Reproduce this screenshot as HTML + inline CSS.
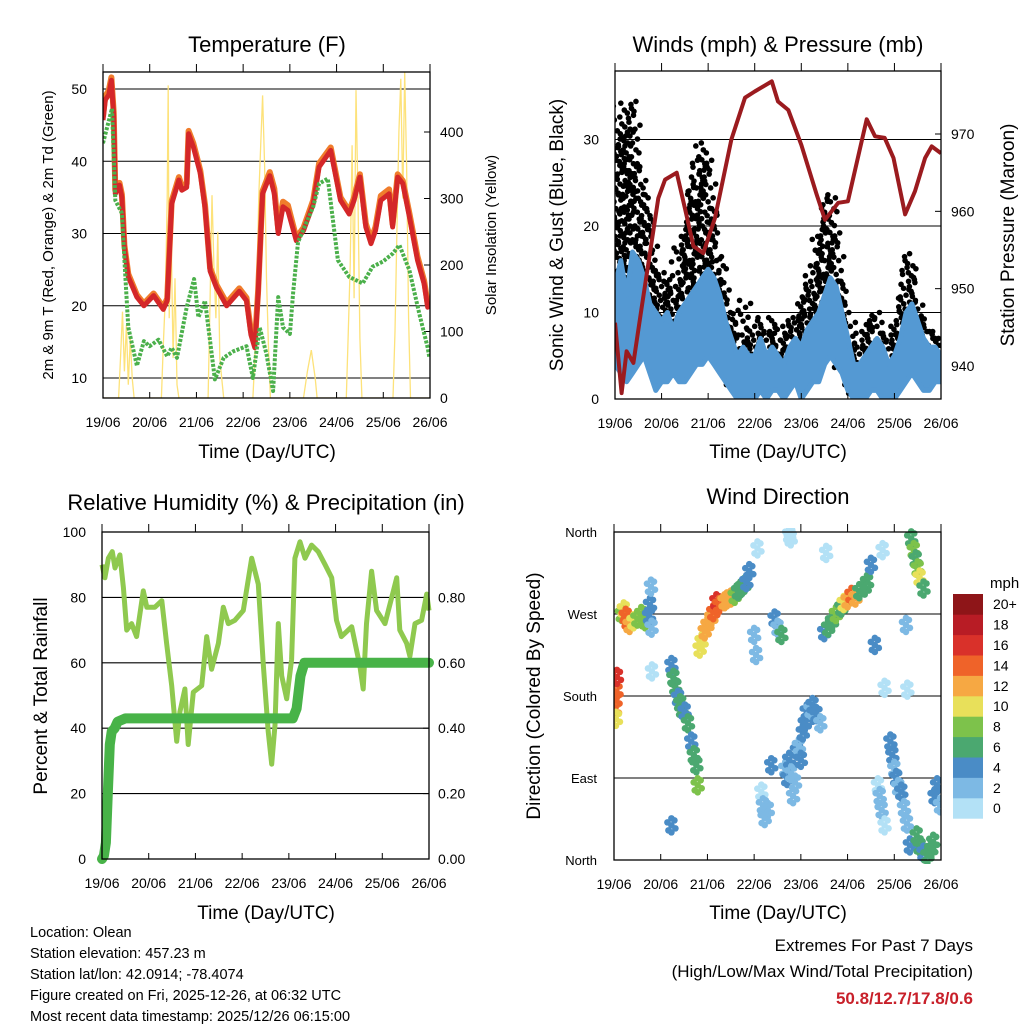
<!DOCTYPE html>
<html><head><meta charset="utf-8"><style>
html,body{margin:0;padding:0;background:#fff;}
svg{display:block;font-family:"Liberation Sans",Arial,sans-serif;}
</style></head><body>
<svg id="root" width="1024" height="1024" viewBox="0 0 1024 1024" xmlns="http://www.w3.org/2000/svg">
<rect x="0" y="0" width="1024" height="1024" fill="#fff"/>
<g id="layer"></g>
<g id="texts" fill="#000">
<text x="267" y="52" font-size="22" text-anchor="middle">Temperature (F)</text>
<text x="778" y="52" font-size="22" text-anchor="middle">Winds (mph) &amp; Pressure (mb)</text>
<text x="266" y="510" font-size="22" text-anchor="middle">Relative Humidity (%) &amp; Precipitation (in)</text>
<text x="778" y="504" font-size="22" text-anchor="middle">Wind Direction</text>
<text x="267" y="458" font-size="19" text-anchor="middle">Time (Day/UTC)</text>
<text x="778" y="458" font-size="19" text-anchor="middle">Time (Day/UTC)</text>
<text x="266" y="919" font-size="19" text-anchor="middle">Time (Day/UTC)</text>
<text x="778" y="919" font-size="19" text-anchor="middle">Time (Day/UTC)</text>
<text transform="translate(53,235) rotate(-90)" font-size="15" text-anchor="middle">2m &amp; 9m T (Red, Orange) &amp; 2m Td (Green)</text>
<text transform="translate(496,235) rotate(-90)" font-size="15" text-anchor="middle">Solar Insolation (Yellow)</text>
<text transform="translate(563,235) rotate(-90)" font-size="19" text-anchor="middle">Sonic Wind &amp; Gust (Blue, Black)</text>
<text transform="translate(1014,235) rotate(-90)" font-size="19" text-anchor="middle">Station Pressure (Maroon)</text>
<text transform="translate(47,696) rotate(-90)" font-size="19" text-anchor="middle">Percent &amp; Total Rainfall</text>
<text transform="translate(540,696) rotate(-90)" font-size="19" text-anchor="middle">Direction (Colored By Speed)</text>
<text x="990" y="588" font-size="15">mph</text>
<g font-size="14.5">
<text x="30" y="937">Location: Olean</text>
<text x="30" y="958">Station elevation: 457.23 m</text>
<text x="30" y="979">Station lat/lon: 42.0914; -78.4074</text>
<text x="30" y="1000">Figure created on Fri, 2025-12-26, at 06:32 UTC</text>
<text x="30" y="1021">Most recent data timestamp: 2025/12/26 06:15:00</text>
</g>
<text x="973" y="951" font-size="17" text-anchor="end">Extremes For Past 7 Days</text>
<text x="973" y="977" font-size="17" text-anchor="end">(High/Low/Max Wind/Total Precipitation)</text>
<text x="973" y="1004" font-size="17" font-weight="bold" fill="#c8202a" text-anchor="end">50.8/12.7/17.8/0.6</text>
</g>
</svg>
<script>
// ---------- data ----------
const dayLabels = ["19/06","20/06","21/06","22/06","23/06","24/06","25/06","26/06"];
const tHours = [0,1.2,3,4.3,5.5,6.3,8.5,9.7,11,13,17.4,21,26,31,33,35.3,39,40.5,43,44,46.4,50,52.4,55,58.3,63.5,70,73.7,76,78,79.7,82,85.7,88,90,92.5,95,99.3,103,108,111,117,122,126.5,129,132,135,137.7,140,142.7,147,148.8,151.4,154,157.4,161.6,165,166.8,167.7];
const temp2m = [45.7,48.5,49.2,51.2,46.3,35.5,36.7,35,28,24,21.2,20,21.4,19.5,20.7,34.1,37.4,36,36.4,43.8,42,38.3,33.6,24.8,22.5,20,22,20.7,16,14.2,21.6,35.5,38,35.5,30,33.7,33.2,29,30.4,34.1,39.2,41.5,34.6,32.7,34.6,37.8,30.9,28.6,30.4,34.6,35.5,30.9,37.8,36.9,32.3,26.3,23,19.8,20.3];
const temp9m = [46.2,49.0,49.8,51.6,46.8,36.0,37.0,35.4,28.4,24.4,21.5,20.3,21.7,19.8,21.0,34.5,37.8,36.5,36.9,44.2,42.5,38.7,34.0,25.2,22.9,20.4,22.4,21.1,16.5,14.8,22.0,35.9,38.5,36.2,30.6,34.4,33.9,29.4,30.8,34.6,39.7,41.9,35.0,33.1,35.0,38.2,31.4,29.1,30.9,35.2,36.1,31.3,38.2,37.3,32.8,26.8,23.4,20.2,20.6];
const tdHours = [0,4.6,6.3,9.7,11.4,13,17.4,21,24,28.5,33,35.3,38,43,46.8,49,52.4,55,57.5,62,67,73.7,77,80.5,84,87.4,90,92.5,96,97.6,100.2,108,111,115.5,120.7,126.5,133.4,138.5,143.7,148.8,152.3,157.4,162.5,166.8,167.7];
const dewpoint = [42.5,47.3,34.6,32.8,24.4,17,11.7,15.1,14.4,15.3,13,14.2,12.8,19.8,23.7,18.4,20.7,15.1,9.8,12.8,13.7,14.4,10,17,13.3,8.2,21.2,17,16.1,21.6,28.8,33.7,36.9,37.6,26.3,24,23.1,25.4,26.1,27.2,28.4,24.9,18.9,14.2,12.8];
const solarHours = [0,8,9,10,11,12,13,14,15,16,30,31,32,33,33.5,34,35,36,37,38,39,54,55,56,57,58,59,60,61,62,77,78,79,80,81,82,83,84,85,86,103,105,107,109,110,125,126,127,128,129,130,131,132,133,149,150,151,152,153,154,155,156,157,158,168];
const solarVals = [0,0,60,130,40,110,20,90,30,0,0,80,150,300,470,120,250,60,180,20,0,0,150,305,200,120,250,60,30,0,0,60,150,300,380,455,350,180,80,0,0,40,72,30,0,0,100,200,380,150,463,300,90,0,0,100,250,400,480,300,490,350,120,0,0];
const windHours = [0,3,6,9,12,15,18,21,24,27,30,33,36,39,42,45,48,51,54,57,60,63,66,69,72,75,78,81,84,87,90,93,96,99,102,105,108,111,114,117,120,123,126,129,132,135,138,141,144,147,150,153,156,159,162,165,168];
const windLow  = [4,3,2,3,4,5,3,1,2,2,3,2,2,3,4,4,5,4,3,2,1,0,0,0,0,1,0,1,1,0,1,2,0,1,2,2,4,5,4,3,1,0,0,0,1,1,0,0,0,1,2,3,2,1,1,2,2];
const windHigh = [13,16,12,17,16,14,11,10,9,10,8,10,11,12,13,14,15,14,12,9,7,5,6,5,5,7,5,6,5,4,6,7,6,8,9,10,12,14,13,10,7,4,4,5,6,7,6,4,5,7,10,11,9,7,6,6,5];
const gustLow  = [10,15,8,12,12,10,6,4,5,4,5,5,6,8,10,12,10,8,5,3,2,1,1,1,2,3,2,3,2,2,3,4,3,4,5,6,8,10,8,4,2,1,2,3,3,2,2,1,2,3,4,5,4,3,3,3,3];
const gustHigh = [30,35,32,35,28,25,22,16,15,14,14,18,20,25,28,30,28,22,17,13,10,8,12,8,9,10,8,10,8,9,10,10,12,14,16,20,24,24,20,14,10,6,8,9,10,10,8,8,9,12,17,16,12,10,8,8,7];
const presHours = [0,3.4,6,9.5,13.7,22.3,25.8,31.8,36,40.4,45.5,51.5,60,67,72,80.8,84,89.3,96,103.9,108.2,115,120,129.7,134,139,143.5,149.5,154.6,159.8,163.2,168];
const pressure = [945.6,936.5,941.9,940.4,947.5,961.7,964.1,965,960.4,955.5,954.6,959.1,969.3,974.7,975.5,976.8,974.2,973.1,968.6,962.2,958.9,961.1,961.3,971.9,969.7,969.5,966.9,959.6,962.6,966.9,968.4,967.5];
const rhHours = [0,1.5,3.3,5.3,6.7,9.2,11,12.7,15.2,17.8,21.2,23,27.2,30.7,33.2,35.8,38.4,40,42.6,44.3,46.9,51.2,53.8,56.3,59.8,62.3,64.9,68.3,72.6,76.9,80.3,82.9,85.4,87.2,88.9,90.6,92.3,94.9,97.4,99.1,101.7,104.3,107.7,111.1,114.6,118,120.5,123,128.3,132.5,134.2,135.9,138.5,141.1,145.4,149.7,151.4,153,156.5,158.2,160.8,164.2,166.8,168];
const rh = [90,86,92,94,89,93,83,70,72,68,82,77,77,79,66,53,36,45,52,35,51,53,68,58,66,77,72,73,76,92,84,59,39,29,41,72,56,49,61,92,97,92,96,94,90,86,73,68,71,59,52,72,88,76,72,82,86,70,66,62,72,73,81,76];
const rainHours = [0,1,2,3,4,5,6.5,8,12,98,100,102,104,168];
const rain = [0,0.01,0.05,0.2,0.35,0.39,0.40,0.42,0.43,0.43,0.46,0.56,0.60,0.60];
const dirHours = [0.5,0.8,1,1.3,1.5,4,5,6,7,8,10,12,14,16,18,18.5,19,19.3,29.5,30.5,31.5,32.9,34,35,36.3,38,39.7,41,42.3,43,44,45,46.6,48,50,51,52.6,54,56.8,58,60,62,63.7,65,67,68,69.5,72,73,75.7,76.5,77.4,79,80.8,82.5,84,86,88,89,90,91,92,93,94,95,96,97,98,99,100,101,102,104,106,108,110,112,114,116.8,118,120,122,124,126,128.8,130,132,134,135.6,136.5,137.5,139,142,143,144,145,146,147.6,149,150.5,152,152.7,154,155,156,157,159,155.5,157,159,161,163,164,164.7,166,167.5,29.5,73.7,90.8,90,109,139,138,150.7,150,19.5];
const dirDeg = [165,175,155,185,201,270,275,268,262,258,262,265,270,262,268,280,300,255,214,200,190,178,172,165,163,150,130,115,104,82,232,240,251,258,266,272,284,280,284,286,288,290,295,298,302,305,317,247,225,75,60,46,55,104,265,255,247,100,90,110,95,70,85,120,125,110,140,150,163,155,165,170,160,150,250,255,262,270,277,282,285,291,288,295,299,305,324,236,82,70,55,38,130,115,100,90,80,75,57,40,16,353,340,330,320,310,298,27,15,8,5,12,20,70,82,60,38,342,353,357,337,189,340,187,258,207,300];
const dirSpd = [13,15,11,14,17,8,11,15,14,13,11,9,9,8,5,4,2,3,5,6,6,5,7,6,5,6,5,7,6,8,10,11,13,12,13,15,16,14,13,12,13,9,7,6,6,5,4,3,2,1,2,2,3,4,4,3,6,3,4,4,3,2,3,4,3,4,4,4,4,4,3,4,4,3,5,6,6,8,7,10,13,15,12,7,7,6,4,4,1,2,2,1,4,4,3,4,3,4,3,3,4,7,8,7,9,10,7,6,7,5,6,7,6,4,4,3,4,1,1,1,1,1,1,1,2,1,1];
const speedColors = ["#b3e1f6","#7db9e4","#4a8cc6","#4ba870","#7dc24b","#e8e05a","#f6a843","#ef6329","#d9312a","#b81c25","#8e1518"];
const speedLabels = ["0","2","4","6","8","10","12","14","16","18","20+"];

// ---------- helpers ----------
const NS="http://www.w3.org/2000/svg";
const layer=document.getElementById('layer');
function mk(tag,attrs,parent){const e=document.createElementNS(NS,tag);for(const k in attrs)e.setAttribute(k,attrs[k]);(parent||layer).appendChild(e);return e;}
function lin(d0,d1,r0,r1){return v=>r0+(v-d0)/(d1-d0)*(r1-r0);}
function pathFrom(xs,ys,fx,fy){return xs.map((h,i)=>(i?'L':'M')+fx(h).toFixed(1)+','+fy(ys[i]).toFixed(1)).join('');}
function frame(x0,y0,x1,y1,name){const r=mk('rect',{x:x0,y:y0,width:x1-x0,height:y1-y0,fill:'none',stroke:'#000','stroke-width':1.3});}
function hline(x0,x1,y,name){const l=mk('line',{x1:x0,x2:x1,y1:y,y2:y,stroke:'#000','stroke-width':1.1});}
function label(x,y,txt,anchor,size,name){const t=mk('text',{x:x,y:y,'text-anchor':anchor,'font-size':size});t.textContent=txt;return t;}
function xAxis(fx,y0,y1,name){dayLabels.forEach((d,i)=>{const x=fx(i*24);
 const a=mk('line',{x1:x,x2:x,y1:y1,y2:y1-6,stroke:'#000'});
 const b=mk('line',{x1:x,x2:x,y1:y0,y2:y0-8,stroke:'#000'});
 label(x,y1+29,d,'middle',14,name+'-label');});}
function clip(id,x0,y0,x1,y1){const c=mk('clipPath',{id:id});mk('rect',{x:x0,y:y0,width:x1-x0,height:y1-y0},c);}

// ---------- Panel 1: temperature ----------
{const L=103,R=430,T=72,B=398;
 const fx=lin(0,168,L,R), fy=lin(10,50,378,89), fs=lin(0,400,398,132);
 clip('c1',L,T,R,B);
 [10,20,30,40,50].forEach(v=>{hline(L,R,fy(v),'temp-gridline');label(L-16,fy(v)+5,String(v),'end',14,'temp-y-tick-label');});
 [0,100,200,300,400].forEach(v=>{label(R+10,fs(v)+5,String(v),'start',14,'solar-y-tick-label');
  const t=mk('line',{x1:R,x2:R-6,y1:fs(v),y2:fs(v),stroke:'#000'});});
 const g=mk('g',{'clip-path':'url(#c1)'});
 const s=mk('path',{d:pathFrom(solarHours,solarVals,fx,fs),fill:'none',stroke:'#fde27a','stroke-width':1.3},g);
 const o=mk('path',{d:pathFrom(tHours,temp9m,fx,fy),fill:'none',stroke:'#f07d2c','stroke-width':6,'stroke-linejoin':'round'},g);
 const r=mk('path',{d:pathFrom(tHours,temp2m,fx,fy),fill:'none',stroke:'#d42729','stroke-width':5,'stroke-linejoin':'round'},g);
 const d=mk('path',{d:pathFrom(tdHours,dewpoint,fx,fy),fill:'none',stroke:'#4bb04b','stroke-width':4,'stroke-dasharray':'3 1.5','stroke-linejoin':'round'},g);
 frame(L,T,R,B,'temp-plot-frame');xAxis(fx,T,B,'temp-x');}

// ---------- Panel 2: winds ----------
{const L=615,R=941,T=71,B=399;
 const fx=lin(0,168,L,R), fy=lin(0,10,B,312.5), fp=lin(940,970,366,134);
 clip('c2',L,T,R,B);
 [10,20,30].forEach(v=>hline(L,R,fy(v),'wind-gridline'));
 [0,10,20,30].forEach(v=>label(L-16,fy(v)+5,String(v),'end',14,'wind-y-tick-label'));
 [940,950,960,970].forEach(v=>{label(R+10,fp(v)+5,String(v),'start',14,'pressure-y-tick-label');
  const t=mk('line',{x1:R,x2:R-6,y1:fp(v),y2:fp(v),stroke:'#000'});});
 const g=mk('g',{'clip-path':'url(#c2)'});
 const gg=mk('g',{fill:'#000'},g);
 const offs=[-3.5,1,-1,3.5,0,-2.5,2.5];
 windHours.forEach((h,i)=>{let k=0;for(let v=gustLow[i];v<=gustHigh[i];v+=0.8){
   const dx=offs[(k+i)%7], dx2=offs[(k+i+3)%7];
   const c=mk('circle',{cx:fx(h)+dx,cy:fy(v),r:2.8},gg);
   const c2=mk('circle',{cx:fx(h)+dx2+((k%2)?4:-4),cy:fy(v)+3,r:2.8},gg);
   k++;}});
 const top=windHours.map((h,i)=>fx(h).toFixed(1)+','+fy(windHigh[i]).toFixed(1));
 const bot=windHours.map((h,i)=>fx(h).toFixed(1)+','+fy(windLow[i]).toFixed(1)).reverse();
 const w=mk('polygon',{points:top.concat(bot).join(' '),fill:'#5499d3',stroke:'#5499d3','stroke-width':5,'stroke-linejoin':'round'},g);
 const p=mk('path',{d:pathFrom(presHours,pressure,fx,fp),fill:'none',stroke:'#9b1b1f','stroke-width':4,'stroke-linejoin':'round'},g);
 frame(L,T,R,B,'winds-plot-frame');xAxis(fx,T,B,'winds-x');}

// ---------- Panel 3: humidity ----------
{const L=102,R=429,T=532,B=859;
 const fx=lin(0,168,L,R), fy=lin(0,100,B,T), fr=lin(0,1,B,T);
 clip('c3',L-8,T,R+8,B+8);
 [20,40,60,80].forEach(v=>hline(L,R,fy(v),'humidity-gridline'));
 [0,20,40,60,80,100].forEach(v=>label(L-16,fy(v)+5,String(v),'end',14,'humidity-y-tick-label'));
 [0,0.2,0.4,0.6,0.8].forEach(v=>{label(R+9,fr(v)+5,v.toFixed(2),'start',14,'rain-y-tick-label');
  const t=mk('line',{x1:R,x2:R-6,y1:fr(v),y2:fr(v),stroke:'#000'});});
 const g=mk('g',{'clip-path':'url(#c3)'});
 const h=mk('path',{d:pathFrom(rhHours,rh,fx,fy),fill:'none',stroke:'#8fc94f','stroke-width':5,'stroke-linejoin':'round'},g);
 const r=mk('path',{d:pathFrom(rainHours,rain,fx,fr),fill:'none',stroke:'#48b348','stroke-width':10,'stroke-linejoin':'round','stroke-linecap':'round'},g);
 frame(L,T,R,B,'humidity-plot-frame');xAxis(fx,T,B,'humidity-x');}

// ---------- Panel 4: direction ----------
{const L=614,R=941,T=532,B=860;
 const fx=lin(0,168,L,R), fy=lin(0,360,B,T);
 clip('c4',L,T-4,R,B+4);
 [90,180,270].forEach(v=>hline(L,R,fy(v),'direction-gridline'));
 ["North","East","South","West","North"].forEach((n,i)=>label(L-17,fy(i*90)+5,n,'end',13,'direction-y-tick-label'));
 const g=mk('g',{'clip-path':'url(#c4)'});
 const pts=[[0,-7],[0,0],[0,7],[-4,-3],[4,3],[-3,5],[3,-5]];
 dirHours.forEach((h,i)=>{const col=speedColors[Math.min(10,Math.floor(dirSpd[i]/2))];
  pts.forEach(p=>{const c=mk('circle',{cx:fx(h)+p[0],cy:fy(dirDeg[i])+p[1],r:3.3,fill:col},g);});});
 frame(L,T,R,B,'direction-plot-frame');xAxis(fx,T,B,'direction-x');
 const cb=mk('g',{});
 const top=594,bh=20.4;
 speedColors.forEach((c,i)=>{const y=top+(10-i)*bh;const r=mk('rect',{x:953,y:y,width:30,height:bh+0.3,fill:c},cb);
  label(993,y+bh/2+5,speedLabels[i],'start',14,'colorbar-label');});}
</script>
</body></html>
